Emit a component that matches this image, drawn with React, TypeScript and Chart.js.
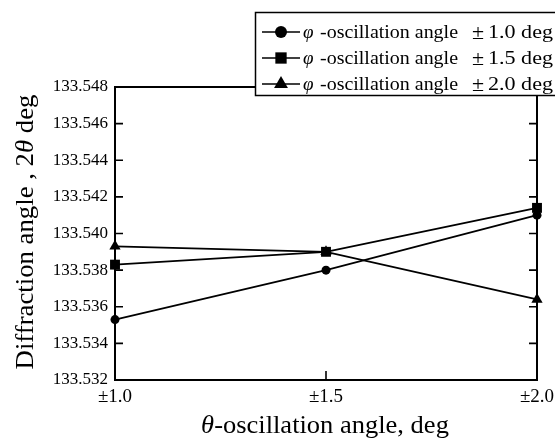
import { useEffect, useRef } from "react";
import { Chart, registerables } from "chart.js";

Chart.register(...registerables);

const categories = ["±1.0", "±1.5", "±2.0"];
const seriesNames = ["1.0 deg", "1.5 deg", "2.0 deg"];
const seriesMarkers = ["circle", "rect", "triangle"];
const phi10 = [133.5353, 133.538, 133.541];
const phi15 = [133.5383, 133.539, 133.5414];
const phi20 = [133.5393, 133.539, 133.5364];
const yMin = 133.532;
const yMax = 133.548;
const yStep = 0.002;

const SERIF = '"Liberation Serif", "DejaVu Serif", "Times New Roman", serif';

function drawSegments(
  ctx: CanvasRenderingContext2D,
  segs: { t: string; italic: boolean }[],
  size: number,
  cx: number,
  cy: number,
  sx: number
) {
  let total = 0;
  const widths = segs.map((s) => {
    ctx.font = `${s.italic ? "italic " : ""}${size}px ${SERIF}`;
    const w = ctx.measureText(s.t).width;
    total += w;
    return w;
  });
  ctx.save();
  ctx.translate(cx, cy);
  ctx.scale(sx, 1);
  let x = -total / 2;
  ctx.textBaseline = "alphabetic";
  ctx.textAlign = "left";
  segs.forEach((s, i) => {
    ctx.font = `${s.italic ? "italic " : ""}${size}px ${SERIF}`;
    ctx.fillText(s.t, x, 0);
    x += widths[i];
  });
  ctx.restore();
}

function drawMarker(ctx: CanvasRenderingContext2D, style: string, x: number, y: number, r: number) {
  ctx.beginPath();
  if (style === "circle") {
    ctx.arc(x, y, r, 0, Math.PI * 2);
  } else if (style === "rect") {
    const s = r * Math.SQRT1_2;
    ctx.rect(x - s, y - s, 2 * s, 2 * s);
  } else {
    const c = Math.cos(Math.PI / 6) * r;
    ctx.moveTo(x, y - r);
    ctx.lineTo(x + c, y + r / 2);
    ctx.lineTo(x - c, y + r / 2);
    ctx.closePath();
  }
  ctx.fill();
}

const framePlugin = {
  id: "frame",
  beforeDatasetsDraw(chart: any) {
    const { ctx, chartArea } = chart;
    const { left, right, top, bottom } = chartArea;
    const ys = chart.scales.y;
    const xs = chart.scales.x;
    ctx.save();
    ctx.strokeStyle = "#000";
    ctx.lineWidth = 2;
    ctx.strokeRect(left, top, right - left, bottom - top);
    ctx.lineWidth = 1.6;
    ys.ticks.forEach((t: any) => {
      const py = ys.getPixelForValue(t.value);
      ctx.beginPath();
      ctx.moveTo(left, py);
      ctx.lineTo(left + 8, py);
      ctx.moveTo(right, py);
      ctx.lineTo(right - 8, py);
      ctx.stroke();
    });
    xs.ticks.forEach((_t: any, i: number) => {
      const px = xs.getPixelForTick(i);
      ctx.beginPath();
      ctx.moveTo(px, bottom);
      ctx.lineTo(px, bottom - 9);
      ctx.stroke();
    });
    ctx.restore();
  },
  afterDraw(chart: any) {
    const { ctx, chartArea } = chart;
    ctx.save();
    ctx.fillStyle = "#000";
    // y axis title
    ctx.save();
    ctx.translate(33, 232);
    ctx.rotate(-Math.PI / 2);
    drawSegments(
      ctx,
      [
        { t: "Diffraction angle , 2", italic: false },
        { t: "θ", italic: true },
        { t: " deg", italic: false },
      ],
      25,
      0,
      0,
      1.07
    );
    ctx.restore();
    // x axis title
    drawSegments(
      ctx,
      [
        { t: "θ", italic: true },
        { t: "-oscillation angle, deg", italic: false },
      ],
      25,
      (chartArea.left + chartArea.right) / 2 - 1,
      433,
      1.06
    );
    // legend
    const bx = 255.5, by = 12.5, bw = 305, bh = 83;
    ctx.fillStyle = "#fff";
    ctx.fillRect(bx, by, bw, bh);
    ctx.strokeStyle = "#000";
    ctx.lineWidth = 1.5;
    ctx.strokeRect(bx, by, bw, bh);
    const rowsY = [32, 58, 84];
    const markerR = [6, 8, 8];
    chart.data.datasets.forEach((_ds: any, i: number) => {
      const y = rowsY[i];
      ctx.strokeStyle = "#000";
      ctx.lineWidth = 1.5;
      ctx.beginPath();
      ctx.moveTo(262, y);
      ctx.lineTo(300, y);
      ctx.stroke();
      ctx.fillStyle = "#000";
      drawMarker(ctx, seriesMarkers[i], 281, y, markerR[i]);
      ctx.textBaseline = "middle";
      ctx.textAlign = "left";
      ctx.font = `italic 19px ${SERIF}`;
      ctx.fillText("φ", 303, y + 1);
      ctx.font = `19px ${SERIF}`;
      const w1 = ctx.measureText("-oscillation angle").width;
      ctx.save();
      ctx.translate(320, y + 1);
      ctx.scale(138 / w1, 1);
      ctx.fillText("-oscillation angle", 0, 0);
      ctx.restore();
      ctx.font = `22px ${SERIF}`;
      ctx.fillText("±", 472, y + 1);
      ctx.font = `19px ${SERIF}`;
      const w2 = ctx.measureText(seriesNames[i]).width;
      ctx.save();
      ctx.translate(488, y + 1);
      ctx.scale(65 / w2, 1);
      ctx.fillText(seriesNames[i], 0, 0);
      ctx.restore();
    });
    ctx.restore();
  },
};

export default function App() {
  const ref = useRef<HTMLCanvasElement | null>(null);
  useEffect(() => {
    if (!ref.current) return;
    const common = {
      borderColor: "#000",
      backgroundColor: "#000",
      pointBackgroundColor: "#000",
      pointBorderColor: "#000",
      borderWidth: 1.7,
      pointBorderWidth: 0,
      tension: 0,
      clip: false as any,
    };
    const chart = new Chart(ref.current, {
      type: "line",
      data: {
        labels: categories,
        datasets: [
          { ...common, label: seriesNames[0], data: phi10, pointStyle: "circle", pointRadius: 4.5 },
          { ...common, label: seriesNames[1], data: phi15, pointStyle: "rect", pointRadius: 7 },
          { ...common, label: seriesNames[2], data: phi20, pointStyle: "triangle", pointRadius: 6.5 },
        ],
      },
      options: {
        animation: false,
        responsive: false,
        layout: { padding: { top: 87, right: 18, left: 0, bottom: 0 } },
        plugins: { legend: { display: false }, tooltip: { enabled: false } },
        scales: {
          x: {
            type: "category",
            offset: false,
            grid: { display: false, drawTicks: false },
            border: { display: false },
            ticks: { color: "#000", padding: 6, font: { family: SERIF, size: 19 } },
            afterFit: (s: any) => {
              s.height = 60;
              s.paddingLeft = 0;
              s.paddingRight = 0;
            },
          },
          y: {
            min: yMin,
            max: yMax,
            grid: { display: false, drawTicks: false },
            border: { display: false },
            ticks: {
              stepSize: yStep,
              color: "#000",
              padding: 7,
              font: { family: SERIF, size: 17 },
              callback: (v: any) => Number(v).toFixed(3),
            },
            afterFit: (s: any) => {
              s.width = 115;
              s.paddingTop = 0;
              s.paddingBottom = 0;
            },
          },
        },
      },
      plugins: [framePlugin],
    });
    return () => chart.destroy();
  }, []);
  return (
    <div style={{ position: "absolute", left: 0, top: 0, width: 555, height: 440, background: "#fff" }}>
      <canvas ref={ref} width={555} height={440} />
    </div>
  );
}
